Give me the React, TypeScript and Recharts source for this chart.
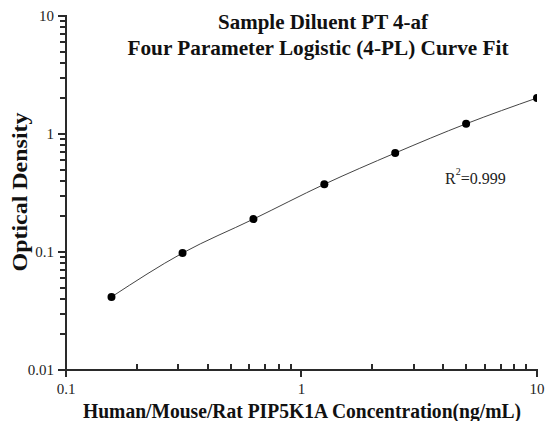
import React from 'react';
import { ComposedChart, Line, XAxis, YAxis, Customized } from 'recharts';

const concentrations = [0.156, 0.3125, 0.625, 1.25, 2.5, 5, 10];
const odValues = [0.0416, 0.098, 0.19, 0.375, 0.69, 1.22, 2.02];
const xMajor = [0.1, 1, 10];
const yMajor = [0.01, 0.1, 1, 10];
const xMinor = [0.2, 0.3, 0.4, 0.5, 0.6, 0.7, 0.8, 0.9, 2, 3, 4, 5, 6, 7, 8, 9];
const yMinor = [
  0.02, 0.03, 0.04, 0.05, 0.06, 0.07, 0.08, 0.09,
  0.2, 0.3, 0.4, 0.5, 0.6, 0.7, 0.8, 0.9,
  2, 3, 4, 5, 6, 7, 8, 9,
];
const titleLines = ['Sample Diluent PT 4-af', 'Four Parameter Logistic (4-PL) Curve Fit'];
const xLabel = 'Human/Mouse/Rat PIP5K1A Concentration(ng/mL)';
const yLabel = 'Optical Density';

const data = concentrations.map((c, i) => ({ x: c, y: odValues[i] }));
const xTicks = [...xMajor, ...xMinor].sort((a, b) => a - b);
const yTicks = [...yMajor, ...yMinor].sort((a, b) => a - b);

const FONT = '"Liberation Serif", "Times New Roman", serif';
const AX = '#2a2a2a';

const isMajor = (v: number, arr: number[]) => arr.some((m) => Math.abs(m - v) < 1e-9);

const XTick = (props: any) => {
  const { x, y, payload } = props;
  const v = payload.value;
  const px = Math.round(x);
  if (!isMajor(v, xMajor)) {
    return <rect x={px - 1} y={y - 6} width={2} height={6} fill={AX} />;
  }
  return (
    <g>
      <rect x={px - 1} y={y - 1} width={2} height={8} fill={AX} />
      <text x={x} y={y + 19} textAnchor="middle" dominantBaseline="central" fontFamily={FONT} fontSize={15} fill="#222">
        {String(v)}
      </text>
    </g>
  );
};

const YTick = (props: any) => {
  const { x, y, payload } = props;
  const v = payload.value;
  const py = Math.round(y);
  if (!isMajor(v, yMajor)) {
    return <rect x={x - 6} y={py - 1} width={6} height={2} fill={AX} />;
  }
  return (
    <g>
      <rect x={x - 8} y={py - 1} width={9} height={2} fill={AX} />
      <text x={x - 12} y={y} textAnchor="end" dominantBaseline="central" fontFamily={FONT} fontSize={15} fill="#222">
        {String(v)}
      </text>
    </g>
  );
};

const Dot = (props: any) => {
  const { cx, cy } = props;
  return <circle cx={cx} cy={cy} r={4} fill="#000" />;
};

const Labels = () => (
  <g fontFamily={FONT}>
    <text x={323} y={22} textAnchor="middle" dominantBaseline="central" fontSize={21} fontWeight="bold" fill="#111"
      textLength={210} lengthAdjust="spacingAndGlyphs">
      {titleLines[0]}
    </text>
    <text x={318} y={48} textAnchor="middle" dominantBaseline="central" fontSize={21} fontWeight="bold" fill="#111"
      textLength={381} lengthAdjust="spacingAndGlyphs">
      {titleLines[1]}
    </text>
    <text x={302} y={411} textAnchor="middle" dominantBaseline="central" fontSize={20} fontWeight="bold" fill="#111"
      textLength={438} lengthAdjust="spacingAndGlyphs">
      {xLabel}
    </text>
    <text
      x={20}
      y={192}
      textAnchor="middle"
      dominantBaseline="central"
      fontSize={21}
      fontWeight="bold"
      fill="#111"
      textLength={159}
      lengthAdjust="spacingAndGlyphs"
      transform="rotate(-90 20 192)"
    >
      {yLabel}
    </text>
    <text x={445} y={178} dominantBaseline="central" fontSize={16} fill="#222">
      R<tspan dy={-7} fontSize={10}>2</tspan>
      <tspan dy={7}>=0.999</tspan>
    </text>
  </g>
);

export default function App() {
  return (
    <div style={{ position: 'absolute', left: 0, top: 0, background: '#fff' }}>
      <ComposedChart width={547} height={421} data={data} margin={{ top: 16, right: 10, bottom: 0, left: 0 }}>
        <XAxis
          dataKey="x"
          type="number"
          scale="log"
          domain={[0.1, 10]}
          ticks={xTicks}
          interval={0}
          allowDataOverflow
          height={51}
          tickSize={0}
          tickMargin={0}
          tickLine={false}
          tick={<XTick />}
          axisLine={{ stroke: AX, strokeWidth: 2 }}
        />
        <YAxis
          dataKey="y"
          type="number"
          scale="log"
          domain={[0.01, 10]}
          ticks={yTicks}
          interval={0}
          allowDataOverflow
          width={66}
          tickSize={0}
          tickMargin={0}
          tickLine={false}
          tick={<YTick />}
          axisLine={{ stroke: AX, strokeWidth: 2 }}
        />
        <Line
          dataKey="y"
          type="monotone"
          stroke="#444"
          strokeWidth={1}
          dot={<Dot />}
          activeDot={false}
          isAnimationActive={false}
        />
        <Customized component={Labels} />
      </ComposedChart>
    </div>
  );
}
